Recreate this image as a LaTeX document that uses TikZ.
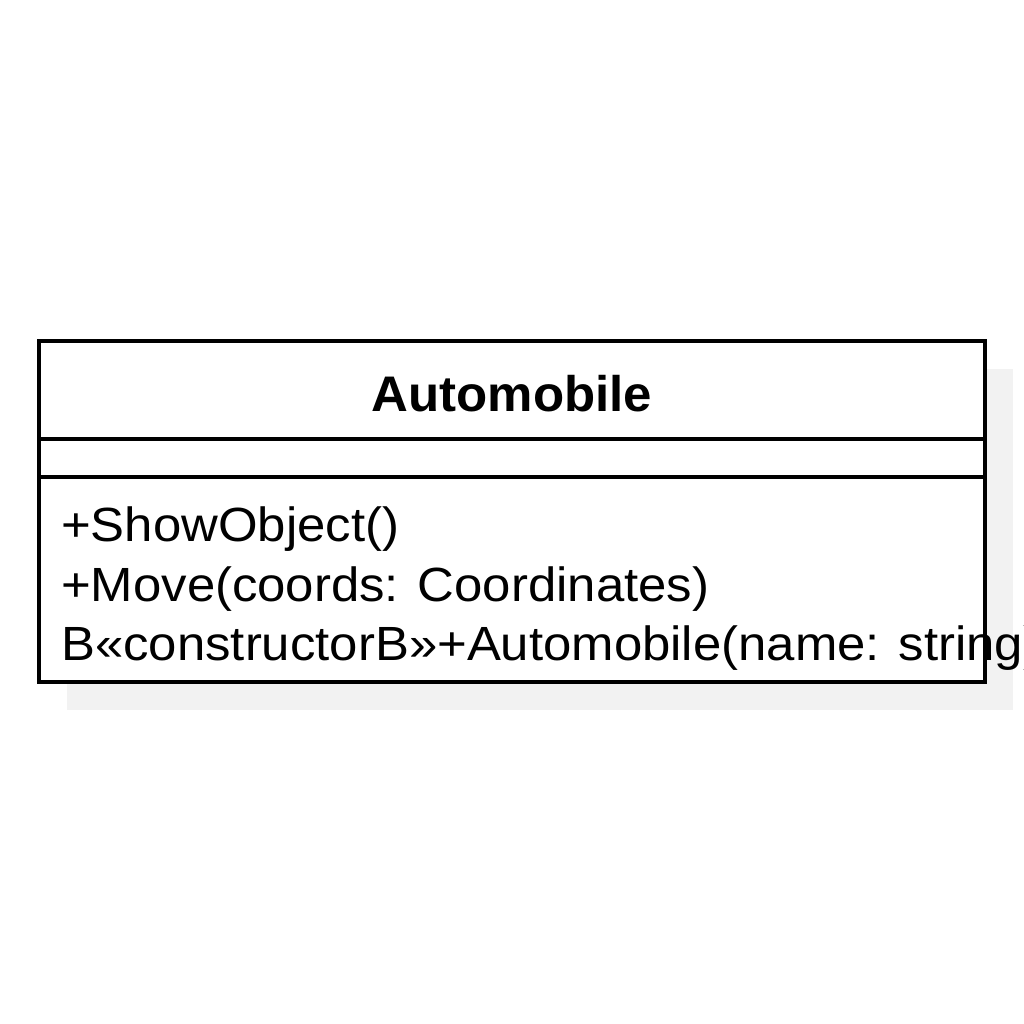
\documentclass[tikz,border=0pt]{standalone}
\usepackage{fontspec}
\setmainfont{Liberation Sans}
\newfontfamily\opfont[FakeStretch=1.06]{Liberation Sans}
\newfontfamily\titlefont[FakeStretch=1.02]{Liberation Sans}
\usepackage{xcolor}
\usetikzlibrary{positioning, calc, backgrounds}
\definecolor{shadowGray}{RGB}{242, 242, 242}

\begin{document}
\begin{tikzpicture}[x=1pt, y=-1pt,
    umlline/.style={line width=4pt},
    opText/.style={anchor=base west, inner sep=0pt, font=\opfont\fontsize{48}{58}\selectfont}]
        \useasboundingbox (0,0) rectangle (1024,1024);
        \node[draw, umlline, fill=white, minimum width=946pt, minimum height=341pt, inner sep=0pt, outer sep=0pt] (cls) at (512,511.5) {};
        \begin{scope}[on background layer]
            \fill[shadowGray] ($(cls.north west)+(27.5,27.5)$) rectangle ($(cls.south east)+(27.5,27.5)$);
        \end{scope}
        \coordinate (divA) at (0,439);
        \coordinate (divB) at (0,477);
        \draw[umlline] (cls.west |- divA) -- (cls.east |- divA);
        \draw[umlline] (cls.west |- divB) -- (cls.east |- divB);

        \node[anchor=base, inner sep=0pt, font=\titlefont\bfseries\fontsize{50}{60}\selectfont] (title) at (512,411) {Automobile};
        \node[opText] (opShow) at (61,541) {+ShowObject()};
        \node[opText] (opMove) at (61,601) {+Move(coords: Coordinates)};
        \node[opText] (opCtor) at (61,660) {B«constructorB»+Automobile(name: string)};
    \end{tikzpicture}
\end{document}
